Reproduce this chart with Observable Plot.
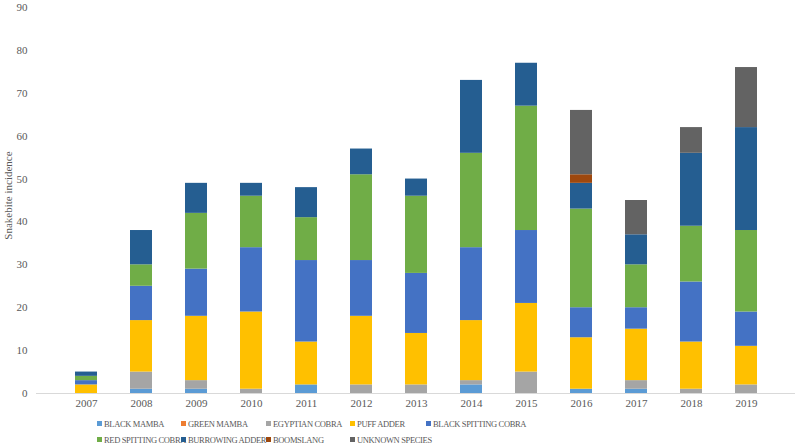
<!DOCTYPE html>
<html>
<head>
<meta charset="utf-8">
<script src="https://cdn.jsdelivr.net/npm/d3@7"></script>
<script src="https://cdn.jsdelivr.net/npm/@observablehq/plot@0.6"></script>
<style>
  html, body { margin: 0; padding: 0; background: #fff; }
  #wrap { position: relative; width: 800px; height: 446px; font-family: "Liberation Serif", "Times New Roman", serif; }
  #legend { position: absolute; left: 0; top: 412px; width: 800px; height: 34px; }
  .li { position: absolute; font-size: 8.5px; color: #595959; white-space: nowrap; letter-spacing: -0.35px; line-height: 12px; }
  .li span.sw { display: inline-block; width: 5px; height: 5px; margin-right: 2px; vertical-align: 1px; }
</style>
</head>
<body>
<div id="wrap"><div id="chart"></div><div id="legend"></div></div>
<script>
const years = ["2007","2008","2009","2010","2011","2012","2013","2014","2015","2016","2017","2018","2019"];
const species = ["BLACK MAMBA","GREEN MAMBA","EGYPTIAN COBRA","PUFF ADDER","BLACK SPITTING COBRA","RED SPITTING COBRA","BURROWING ADDER","BOOMSLANG","UNKNOWN SPECIES"];
const colors = ["#5B9BD5","#ED7D31","#A5A5A5","#FFC000","#4472C4","#70AD47","#255E91","#9E480E","#636363"];

const blackMamba         = [0,1,1,0,2,0,0,2,0,1,1,0,0];
const greenMamba         = [0,0,0,0,0,0,0,0,0,0,0,0,0];
const egyptianCobra      = [0,4,2,1,0,2,2,1,5,0,2,1,2];
const puffAdder          = [2,12,15,18,10,16,12,14,16,12,12,11,9];
const blackSpittingCobra = [1,8,11,15,19,13,14,17,17,7,5,14,8];
const redSpittingCobra   = [1,5,13,12,10,20,18,22,29,23,10,13,19];
const burrowingAdder     = [1,8,7,3,7,6,4,17,10,6,7,17,24];
const boomslang          = [0,0,0,0,0,0,0,0,0,2,0,0,0];
const unknownSpecies     = [0,0,0,0,0,0,0,0,0,15,8,6,14];

const series = [blackMamba, greenMamba, egyptianCobra, puffAdder, blackSpittingCobra, redSpittingCobra, burrowingAdder, boomslang, unknownSpecies];
const yTicks = [0,10,20,30,40,50,60,70,80,90];

const data = [];
years.forEach((y, i) => species.forEach((s, j) => {
  if (series[j][i] > 0) data.push({year: y, species: s, value: series[j][i]});
}));

const chart = Plot.plot({
  width: 800,
  height: 412,
  marginLeft: 36,
  marginRight: 5,
  marginTop: 7,
  marginBottom: 19,
  style: {fontFamily: "'Liberation Serif', 'Times New Roman', serif", fontSize: "11px", color: "#595959", background: "#fff"},
  x: {domain: years, padding: 0.6, label: null},
  y: {domain: [0, 90], label: null},
  color: {domain: species, range: colors},
  marks: [
    Plot.barY(data, Plot.stackY({order: species, x: "year", y: "value", fill: "species"})),
    Plot.ruleY([0], {stroke: "#D9D9D9", strokeWidth: 1}),
    Plot.axisX({tickSize: 0, tickPadding: 6, fontSize: 11, fill: "#595959"}),
    Plot.axisY(yTicks, {tickSize: 0, tickPadding: 9, fontSize: 11, fill: "#595959", label: null}),
    Plot.text(["Snakebite incidence"], {frameAnchor: "left", textAnchor: "middle", dx: -28, dy: -5, rotate: -90, fontSize: 11, fill: "#595959"})
  ]
});
document.getElementById("chart").appendChild(chart);

const legend = document.getElementById("legend");
const pos = [[97,6],[181,6],[266,6],[350,6],[426,6],[97,22],[181,22],[266,22],[350,22]];
species.forEach((s, i) => {
  const d = document.createElement("div");
  d.className = "li";
  d.style.left = pos[i][0] + "px";
  d.style.top = pos[i][1] + "px";
  d.innerHTML = `<span class="sw" style="background:${colors[i]}"></span>${s}`;
  legend.appendChild(d);
});
</script>
</body>
</html>
